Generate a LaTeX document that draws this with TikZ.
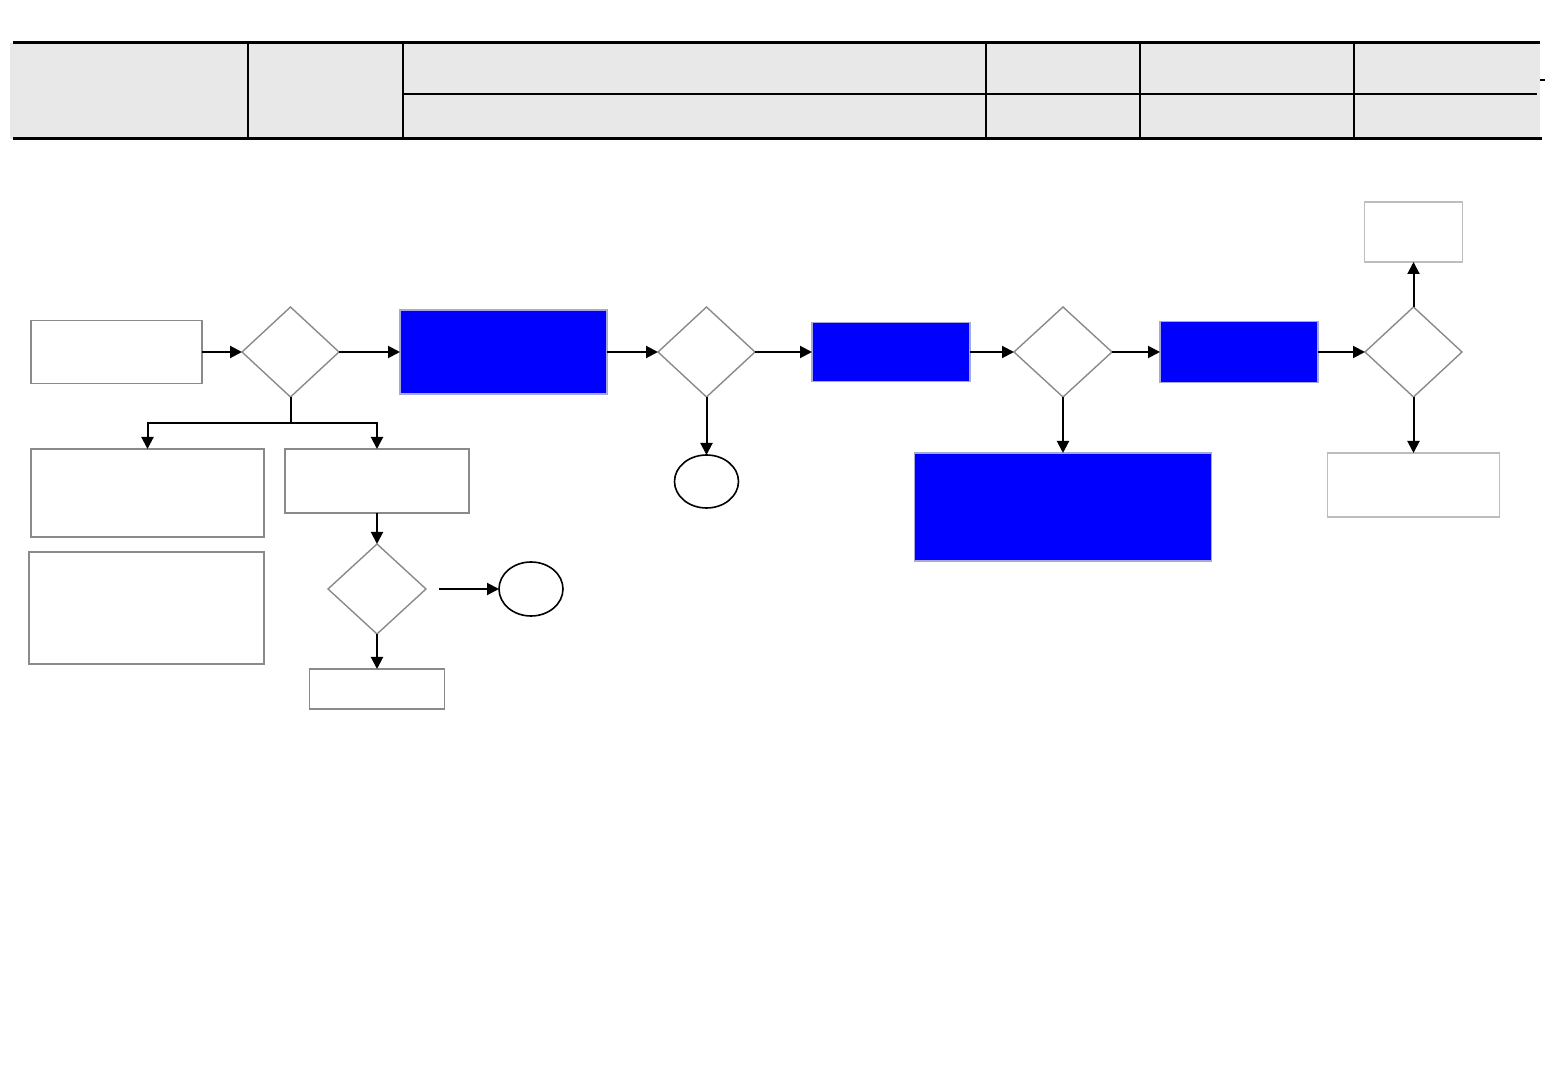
\documentclass[tikz,border=0pt]{standalone}
\usetikzlibrary{shapes.geometric,arrows.meta}
\definecolor{hdrfill}{HTML}{E8E8E8}
\definecolor{boxline}{HTML}{8A8A8A}
\definecolor{lightline}{HTML}{BDBDBD}
\definecolor{bluefill}{HTML}{0000FF}
\definecolor{blueline}{HTML}{A8A8D8}
\tikzset{
  sz/.style 2 args={minimum width=#1*0.5pt, minimum height=#2*0.5pt},
  box/.style={draw=boxline, line width=0.7pt, fill=white, rectangle, inner sep=0pt, outer sep=0pt},
  lbox/.style={draw=lightline, line width=0.7pt, fill=white, rectangle, inner sep=0pt, outer sep=0pt},
  bbox/.style={draw=blueline, line width=0.9pt, fill=bluefill, rectangle, inner sep=0pt, outer sep=0pt},
  dec/.style={draw=boxline, line width=0.7pt, fill=white, diamond, inner sep=0pt, outer sep=0pt},
  term/.style={draw=black, line width=0.8pt, fill=white, ellipse, inner sep=0pt, outer sep=0pt},
  arr/.style={line width=1pt, -{Triangle[length=6pt,width=6pt]}},
  ln/.style={line width=1pt},
}
\begin{document}
\begin{tikzpicture}[x=0.5pt,y=-0.5pt]
\useasboundingbox (0,0) rectangle (1560,1080);
% header table
\fill[hdrfill] (10,43) rectangle (1540,139);
\draw[line width=1.5pt] (13,43) -- (1540,43);
\draw[line width=1.5pt] (13,139) -- (1542,139);
\foreach \xx in {248,403,986,1140,1354} \draw[line width=1pt] (\xx,43) -- (\xx,139);
\draw[line width=1pt] (403,94) -- (1537,94);
\draw[line width=1pt] (1540,80) -- (1545,80);
% nodes
\node[box, sz={171}{63}] (A) at (116.5,352) {};
\node[dec, sz={97}{90}] (D1) at (290.5,352) {};
\node[bbox, sz={207}{84}] (B1) at (503.5,352) {};
\node[dec, sz={97}{90}] (D2) at (706.5,352) {};
\node[bbox, sz={158}{59}] (B2) at (891,352) {};
\node[dec, sz={98}{90}] (D3) at (1063,352) {};
\node[bbox, sz={158}{61}] (B3) at (1239,352) {};
\node[dec, sz={97}{90}] (D4) at (1413.5,352) {};
\node[lbox, sz={98}{60}] (TR) at (1413.5,232) {};
\node[lbox, sz={172}{64}] (BR) at (1413.5,485) {};
\node[term, sz={64}{53}] (C1) at (706.5,481.5) {};
\node[term, sz={64}{54}] (C2) at (531,589) {};
\node[box, sz={233}{88}] (L1) at (147.5,493) {};
\node[box, sz={235}{112}] (L2) at (146.5,608) {};
\node[box, sz={184}{64}] (M1) at (377,481) {};
\node[dec, sz={98}{90}] (D5) at (377,589) {};
\node[box, sz={135}{40}] (M2) at (377,689) {};
\node[bbox, sz={297}{108}] (BB) at (1063,507) {};
% connectors
\coordinate (split) at (290.5,423);
\coordinate (s5) at (439,589);
\draw[arr] (A) -- (D1);
\draw[arr] (D1) -- (B1);
\draw[ln] (D1.south) -- (split);
\draw[arr] (split) -| (L1.north);
\draw[arr] (split) -| (M1.north);
\draw[arr] (B1) -- (D2);
\draw[arr] (D2) -- (B2);
\draw[arr] (D2) -- (C1);
\draw[arr] (B2) -- (D3);
\draw[arr] (D3) -- (B3);
\draw[arr] (D3) -- (BB);
\draw[arr] (B3) -- (D4);
\draw[arr] (D4) -- (TR);
\draw[arr] (D4) -- (BR);
\draw[arr] (M1) -- (D5);
\draw[arr] (s5) -- (C2);
\draw[arr] (D5) -- (M2);
\end{tikzpicture}
\end{document}
